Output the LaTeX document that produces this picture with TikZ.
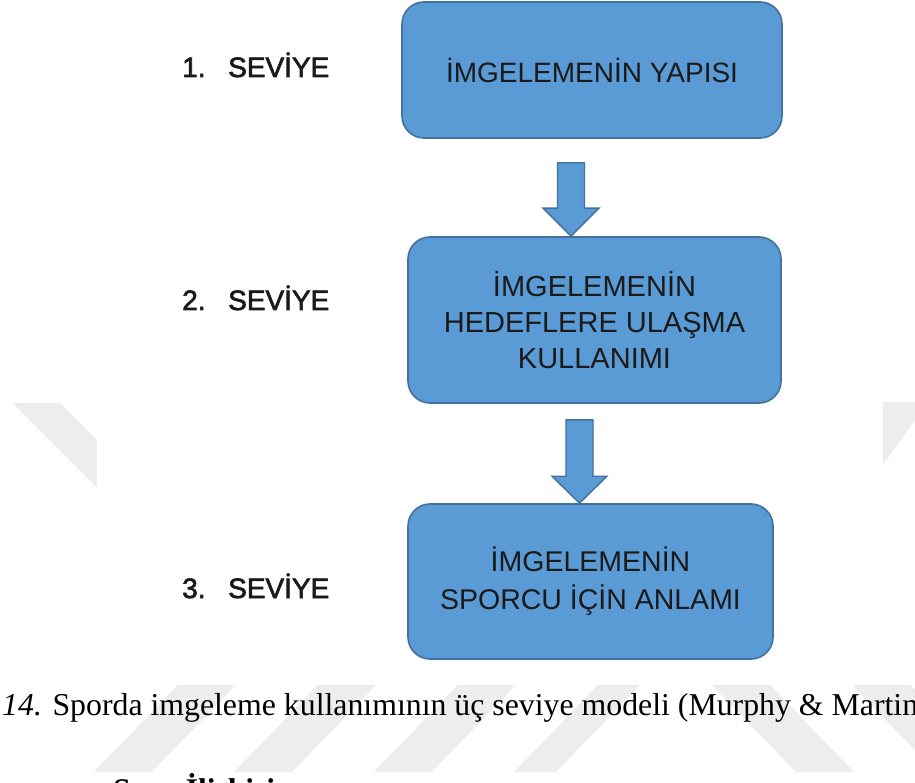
\documentclass[tikz,border=0pt]{standalone}
\usepackage{fontspec}
\setmainfont{Liberation Serif}
\newfontfamily\boxfont{Liberation Sans}
\newfontfamily\labfont[FakeBold=2.2]{Liberation Sans}
\usetikzlibrary{calc}
\definecolor{boxfill}{HTML}{5B9BD5}
\definecolor{boxline}{HTML}{41719C}
\definecolor{wm}{HTML}{EDEDED}
\definecolor{txt}{HTML}{1A1A1A}
\begin{document}
\begin{tikzpicture}[x=1pt,y=-1pt,
  stepbox/.style={draw=boxline, line width=1.6pt, fill=boxfill, rounded corners=22pt,
    align=center, text=txt, inner sep=0pt},
  lvl/.style={anchor=base west, inner sep=0pt, text=txt, font=\labfont\fontsize{28}{34}\selectfont},
  arrowshape/.style={draw=boxline, line width=1.4pt, fill=boxfill, line join=miter},
  wmark/.style={fill=wm, draw=none},
  captxt/.style={anchor=base west, inner sep=0pt, text=black}]
\useasboundingbox (0,0) rectangle (915,783);
\fill[white] (0,0) rectangle (915,783);
% watermark
\fill[wmark] (13,403) -- (60,403) -- (97,440) -- (97,487) -- cycle;
\fill[wmark] (883,402) -- (915,402) -- (915,420) -- (883,465) -- cycle;
\fill[wmark] (178,685) -- (236,685) -- (152,772) -- (94,772) -- cycle;
\fill[wmark] (318,685) -- (376,685) -- (292,772) -- (234,772) -- cycle;
\fill[wmark] (458,685) -- (516,685) -- (432,772) -- (374,772) -- cycle;
\fill[wmark] (598,685) -- (640,685) -- (556,772) -- (514,772) -- cycle;
\fill[wmark] (712,685) -- (770,685) -- (854,772) -- (796,772) -- cycle;
\fill[wmark] (852,685) -- (910,685) -- (915,690) -- (915,772) -- (936,772) -- cycle;
\fill[white] (97,0) rectangle (883,685);
% boxes
\node[stepbox, minimum width=380pt, minimum height=136pt,
  font=\boxfont\fontsize{28}{36}\selectfont] (b1) at (592,70) {İMGELEMENİN YAPISI};
\node[stepbox, minimum width=373pt, minimum height=166pt,
  font=\boxfont\fontsize{29}{36}\selectfont] (b2) at (594.5,320)
  {İMGELEMENİN\\HEDEFLERE ULAŞMA\\KULLANIMI};
\node[stepbox, minimum width=365pt, minimum height=155pt,
  font=\boxfont\fontsize{28.5}{38}\selectfont] (b3) at (590.5,581.5)
  {İMGELEMENİN\\SPORCU İÇİN ANLAMI};
% arrows
\coordinate (a1s) at ($(b1.south)+(-21,24)$);
\coordinate (a1t) at (b2.north -| a1s);
\draw[arrowshape] ($(a1s)+(-13.5,0)$) -- ($(a1s)+(13.5,0)$) -- ($(a1t)+(13.5,-28)$)
  -- ($(a1t)+(28,-28)$) -- (a1t) -- ($(a1t)+(-28,-28)$) -- ($(a1t)+(-13.5,-28)$) -- cycle;
\coordinate (a2s) at ($(b2.south)+(-15,16)$);
\coordinate (a2t) at (b3.north -| a2s);
\draw[arrowshape] ($(a2s)+(-13.5,0)$) -- ($(a2s)+(13.5,0)$) -- ($(a2t)+(13.5,-27)$)
  -- ($(a2t)+(27.5,-27)$) -- (a2t) -- ($(a2t)+(-27.5,-27)$) -- ($(a2t)+(-13.5,-27)$) -- cycle;
% level labels
\node[lvl] (l1) at (182,77) {\makebox[46pt][l]{1.}SEVİYE};
\node[lvl] (l2) at (182,310) {\makebox[46pt][l]{2.}SEVİYE};
\node[lvl] (l3) at (182,598) {\makebox[46pt][l]{3.}SEVİYE};
% caption
\node[captxt, font=\fontsize{31.8}{36}\selectfont] (cap) at (2,715)
  {\textit{14.} Sporda imgeleme kullanımının üç seviye modeli (Murphy \& Martin};
\begin{scope}
\clip (0,0) rectangle (915,783);
\node[captxt, font=\bfseries\fontsize{31.5}{36}\selectfont] (nxt) at (113,800)
  {Spor İlişkisi};
\end{scope}
\end{tikzpicture}
\end{document}
